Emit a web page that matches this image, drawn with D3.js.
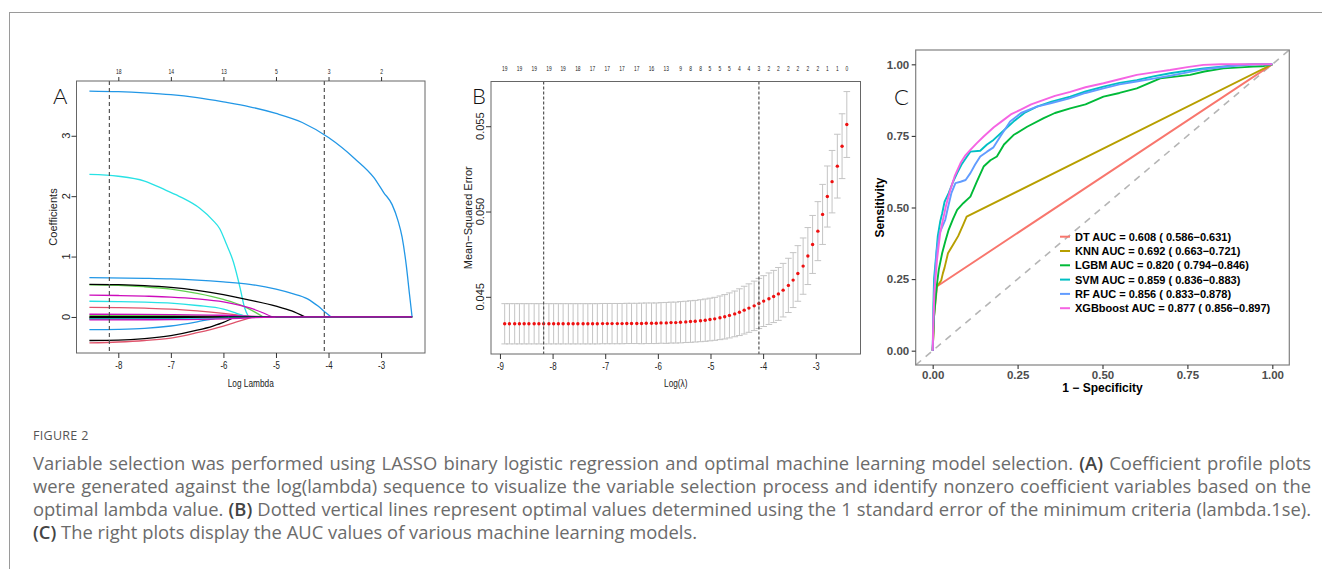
<!DOCTYPE html>
<html><head><meta charset="utf-8">
<script src="https://cdn.jsdelivr.net/npm/d3@7/dist/d3.min.js"></script>
<style>
html,body{margin:0;padding:0;background:#fff;}
body{width:1322px;height:569px;overflow:hidden;position:relative;}
#frame{position:absolute;left:9px;top:12px;width:1400px;height:600px;border-left:1px solid #9a9a9a;border-top:1px solid #9a9a9a;}
#chart{position:absolute;left:0;top:0;}
.cap{position:absolute;left:33px;width:1278px;font-family:"Open Sans",sans-serif;color:#6b6b6b;white-space:nowrap;}
.capline{line-height:23px;height:23px;text-align:justify;text-align-last:justify;}
.capline.last{text-align:left;text-align-last:left;}
.cap b{color:#444;font-weight:600;}
#figtitle{font-size:12.5px;line-height:18px;letter-spacing:0.3px;color:#555;}
#measure{position:absolute;left:0;top:-200px;white-space:nowrap;font-family:"Open Sans",sans-serif;font-size:16px;visibility:hidden;}
#measure b{font-weight:600;}
</style></head><body>
<div id="frame"></div>
<svg id="chart" width="1322" height="569"></svg>
<div id="figtitle" class="cap"></div>
<div id="captext" class="cap"></div>
<span id="measure"></span>
<script>
// ================= DATA =================
// ---- Panel A: LASSO coefficient profiles (log lambda, coefficient) ----
const lassoXTicks = [-8, -7, -6, -5, -4, -3];
const lassoYTicks = [0, 1, 2, 3];
const lassoTopLabels = ["18", "14", "13", "5", "3", "2"];
const lassoEndLog = -2.41;
const lambdaMinLog = -8.17;
const lambda1seLog = -4.08;

const coefBlueBig   = [[-8.55,3.74],[-8,3.73],[-7.5,3.71],[-7,3.68],[-6.5,3.63],[-6,3.56],[-5.5,3.48],[-5,3.37],[-4.5,3.22],[-4,2.97],[-3.5,2.62],[-3.14,2.31],[-2.95,2.06],[-2.79,1.86],[-2.68,1.6],[-2.6,1.32],[-2.52,0.85],[-2.46,0.38],[-2.41,0]];
const coefCyanBig   = [[-8.55,2.36],[-8,2.33],[-7.5,2.25],[-7.1,2.1],[-6.8,1.98],[-6.45,1.8],[-6.2,1.6],[-6.07,1.46],[-5.95,1.22],[-5.81,0.91],[-5.68,0.47],[-5.6,0.16],[-5.52,0]];
const coefBlue065   = [[-8.55,0.65],[-7.5,0.64],[-7,0.63],[-6.5,0.61],[-6,0.58],[-5.5,0.54],[-5,0.46],[-4.7,0.39],[-4.4,0.3],[-4.2,0.18],[-4.05,0.07],[-3.95,0]];
const coefBlack054  = [[-8.55,0.54],[-8,0.535],[-7.5,0.52],[-7,0.49],[-6.5,0.44],[-6,0.37],[-5.5,0.28],[-5,0.18],[-4.7,0.1],[-4.45,0]];
const coefGreen053  = [[-8.55,0.53],[-8,0.525],[-7.5,0.5],[-7,0.46],[-6.5,0.39],[-6,0.29],[-5.6,0.17],[-5.4,0.08],[-5.24,0]];
const coefMag036    = [[-8.55,0.36],[-8,0.355],[-7.5,0.345],[-7,0.33],[-6.5,0.3],[-6,0.25],[-5.5,0.15],[-5.25,0.07],[-5.07,0]];
const coefCyan026   = [[-8.55,0.26],[-8,0.255],[-7.5,0.245],[-7,0.23],[-6.5,0.19],[-6,0.13],[-5.75,0.06],[-5.54,0]];
const coefRed016    = [[-8.55,0.16],[-8,0.155],[-7.5,0.145],[-7,0.13],[-6.5,0.1],[-6,0.06],[-5.7,0.03],[-5.43,0]];
const coefBlueNeg   = [[-8.55,-0.21],[-8,-0.205],[-7.5,-0.19],[-7,-0.15],[-6.5,-0.08],[-6.2,-0.03],[-5.97,0]];
const coefBlackNeg  = [[-8.55,-0.39],[-8,-0.385],[-7.5,-0.36],[-7,-0.31],[-6.5,-0.22],[-6.2,-0.15],[-6,-0.09],[-5.78,0]];
const coefRedNeg    = [[-8.55,-0.43],[-8,-0.415],[-7.5,-0.39],[-7,-0.35],[-6.5,-0.26],[-6,-0.15],[-5.7,-0.07],[-5.43,0]];
const coefMagSmall  = [[-8.55,0.045],[-7,0.04],[-6,0.028],[-5.5,0.012],[-5.1,0]];
const coefGreenSmall= [[-8.55,0.025],[-7,0.022],[-6,0.012],[-5.35,0]];
const coefBlackSmall= [[-8.55,0.005],[-7,0.004],[-6.2,0]];
const coefRedSmall  = [[-8.55,-0.02],[-7,-0.018],[-6,-0.01],[-5.3,0]];
const coefCyanSmall = [[-8.55,-0.03],[-7,-0.026],[-6,-0.015],[-5.6,0]];
const coefBlackSm2  = [[-8.55,-0.012],[-7,-0.01],[-5.9,0]];
const coefGreenSm2  = [[-8.55,-0.038],[-7,-0.033],[-6,-0.02],[-5.45,0]];
const coefMagNeg    = [[-8.55,-0.048],[-7,-0.045],[-6,-0.032],[-5.5,-0.015],[-5.0,0]];

const lassoPaths = [coefBlackNeg, coefRedNeg, coefGreen053, coefBlueBig, coefCyanBig, coefMag036,
  coefBlack054, coefRed016, coefGreenSmall, coefBlue065, coefCyan026, coefMagSmall,
  coefBlackSmall, coefRedSmall, coefGreenSm2, coefBlueNeg, coefCyanSmall, coefBlackSm2, coefMagNeg];
const lassoColors = ["#000000","#DF536B","#61D04F","#2297E6","#28E2E5","#CD0BBC",
  "#000000","#DF536B","#61D04F","#2297E6","#28E2E5","#CD0BBC",
  "#000000","#DF536B","#61D04F","#2297E6","#28E2E5","#000000","#CD0BBC"];

// ---- Panel B: cross-validation curve ----
const cvXTicks = [-9, -8, -7, -6, -5, -4, -3];
const cvYTicks = [0.045, 0.050, 0.055];
const cvLogLambda = [-8.91,-8.82,-8.72,-8.63,-8.54,-8.45,-8.35,-8.26,-8.17,-8.07,
  -7.98,-7.89,-7.80,-7.70,-7.61,-7.52,-7.42,-7.33,-7.24,-7.15,
  -7.05,-6.96,-6.87,-6.77,-6.68,-6.59,-6.50,-6.40,-6.31,-6.22,
  -6.12,-6.03,-5.94,-5.84,-5.75,-5.66,-5.57,-5.47,-5.38,-5.29,
  -5.19,-5.10,-5.01,-4.92,-4.82,-4.73,-4.64,-4.54,-4.45,-4.36,
  -4.27,-4.17,-4.08,-3.99,-3.89,-3.80,-3.71,-3.62,-3.52,-3.43,
  -3.34,-3.24,-3.15,-3.06,-2.96,-2.87,-2.78,-2.69,-2.59,-2.50,
  -2.41];
const cvMSE = [0.04342,0.04342,0.04342,0.04342,0.04342,0.04342,0.04342,0.04342,0.04342,0.04342,
  0.04342,0.04342,0.04342,0.04342,0.04342,0.04342,0.04342,0.04342,0.04342,0.04342,
  0.04343,0.04343,0.04343,0.04343,0.04343,0.04344,0.04344,0.04344,0.04344,0.04345,
  0.04345,0.04345,0.04347,0.04347,0.04349,0.04349,0.04351,0.04353,0.04355,0.04357,
  0.04360,0.04363,0.04367,0.04371,0.04377,0.04383,0.04391,0.04400,0.04410,0.04422,
  0.04434,0.04447,0.04461,0.04475,0.04489,0.04502,0.04517,0.04539,0.04567,0.04598,
  0.04637,0.04680,0.04739,0.04807,0.04885,0.04983,0.05088,0.05175,0.05266,0.05383,
  0.05510];
const cvSE = [0.00118,0.00118,0.00118,0.00118,0.00118,0.00118,0.00118,0.00118,0.00118,0.00118,
  0.00118,0.00118,0.00118,0.00118,0.00118,0.00118,0.00118,0.00118,0.00118,0.00118,
  0.00118,0.00118,0.00118,0.00118,0.00118,0.00118,0.00118,0.00118,0.00119,0.00119,
  0.00119,0.00119,0.00119,0.00120,0.00120,0.00120,0.00121,0.00121,0.00122,0.00122,
  0.00123,0.00124,0.00125,0.00126,0.00128,0.00130,0.00132,0.00134,0.00137,0.00140,
  0.00142,0.00145,0.00147,0.00149,0.00151,0.00153,0.00155,0.00157,0.00159,0.00161,
  0.00163,0.00165,0.00167,0.00170,0.00173,0.00176,0.00179,0.00183,0.00187,0.00190,
  0.00193];
const cvNzero = [19,19,19,19,19,19,19,19,19,19,19,19,19,19,19,18,18,
  17,17,17,17,17,17,17,17,17,17,17,17,17,16,16,13,13,13,13,9,8,8,8,8,
  5,5,5,5,5,5,5,4,4,4,4,3,3,2,2,2,2,2,2,2,2,2,2,2,2,1,1,1,1,0];

// ---- Panel C: ROC curves (1 - specificity, sensitivity) ----
const rocTicks = [0, 0.25, 0.5, 0.75, 1];
const rocLabels = ["DT AUC = 0.608 ( 0.586\u22120.631)", "KNN AUC = 0.692 ( 0.663\u22120.721)",
  "LGBM AUC = 0.820 ( 0.794\u22120.846)", "SVM AUC = 0.859 ( 0.836\u22120.883)",
  "RF AUC = 0.856 ( 0.833\u22120.878)", "XGBboost AUC = 0.877 ( 0.856\u22120.897)"];
const rocDT = [[0,0],[0.004,0.12],[0.013,0.225],[1,1]];
const rocKNN = [[0,0],[0.005,0.15],[0.01,0.22],[0.025,0.245],[0.03,0.27],[0.035,0.29],[0.045,0.34],[0.06,0.37],[0.075,0.40],[0.09,0.44],[0.1,0.468],[1,1]];
const rocLGBM = [[0,0],[0.004,0.12],[0.01,0.2],[0.013,0.236],[0.018,0.283],[0.028,0.341],[0.037,0.381],[0.047,0.422],[0.06,0.46],[0.072,0.492],[0.09,0.515],[0.111,0.538],[0.13,0.59],[0.15,0.643],[0.17,0.665],[0.189,0.678],[0.21,0.72],[0.238,0.753],[0.278,0.782],[0.327,0.812],[0.36,0.83],[0.405,0.846],[0.45,0.86],[0.503,0.887],[0.55,0.9],[0.601,0.916],[0.67,0.951],[0.758,0.963],[0.8,0.975],[0.856,0.986],[0.944,0.992],[0.97,0.993],[1,1]];
const rocSVM = [[0,0],[0.002,0.15],[0.004,0.25],[0.01,0.33],[0.015,0.40],[0.022,0.45],[0.028,0.48],[0.035,0.52],[0.047,0.55],[0.06,0.59],[0.072,0.62],[0.085,0.65],[0.101,0.678],[0.111,0.695],[0.14,0.698],[0.16,0.72],[0.179,0.736],[0.21,0.77],[0.238,0.8],[0.27,0.83],[0.307,0.852],[0.35,0.87],[0.405,0.887],[0.45,0.905],[0.503,0.922],[0.55,0.935],[0.601,0.945],[0.65,0.958],[0.699,0.969],[0.75,0.978],[0.797,0.986],[0.85,0.992],[0.895,0.998],[0.95,1],[1,1]];
const rocRF = [[0,0],[0.003,0.15],[0.006,0.25],[0.012,0.35],[0.02,0.41],[0.037,0.457],[0.045,0.5],[0.055,0.55],[0.067,0.585],[0.082,0.59],[0.097,0.596],[0.111,0.62],[0.125,0.65],[0.14,0.678],[0.16,0.695],[0.179,0.71],[0.2,0.75],[0.228,0.8],[0.26,0.83],[0.307,0.852],[0.35,0.865],[0.4,0.88],[0.45,0.9],[0.5,0.915],[0.55,0.93],[0.6,0.94],[0.65,0.95],[0.7,0.96],[0.75,0.972],[0.8,0.983],[0.85,0.99],[0.9,0.996],[0.95,1],[1,1]];
const rocXGB = [[0,0],[0.002,0.1],[0.005,0.2],[0.008,0.248],[0.013,0.32],[0.018,0.37],[0.022,0.41],[0.028,0.445],[0.04,0.51],[0.052,0.562],[0.065,0.61],[0.082,0.655],[0.095,0.68],[0.111,0.701],[0.13,0.725],[0.15,0.748],[0.18,0.78],[0.209,0.806],[0.23,0.825],[0.258,0.841],[0.29,0.86],[0.327,0.876],[0.36,0.89],[0.405,0.904],[0.45,0.92],[0.503,0.934],[0.55,0.948],[0.601,0.963],[0.65,0.972],[0.699,0.98],[0.75,0.99],[0.797,0.998],[0.85,1],[1,1]];
const rocSeries = [rocDT, rocKNN, rocLGBM, rocSVM, rocRF, rocXGB];
const rocColors = ["#F8766D", "#B79F00", "#00BA38", "#00BFC4", "#619CFF", "#F564E3"];

// ---- Caption ----
const captionTitle = "FIGURE 2";
const captionLines = [
  "Variable selection was performed using LASSO binary logistic regression and optimal machine learning model selection. <b>(A)</b> Coefficient profile plots",
  "were generated against the log(lambda) sequence to visualize the variable selection process and identify nonzero coefficient variables based on the",
  "optimal lambda value. <b>(B)</b> Dotted vertical lines represent optimal values determined using the 1 standard error of the minimum criteria (lambda.1se).",
  "<b>(C)</b> The right plots display the AUC values of various machine learning models."
];

// ================= DRAWING =================
const svg = d3.select("#chart");
const RFONT = "'Liberation Sans', Arial, Helvetica, sans-serif";
const SQ = 0.72; // horizontal squeeze of the R panels' text
const ink = "#222";

function pad4(ext) { const d = (ext[1] - ext[0]) * 0.04; return [ext[0] - d, ext[1] + d]; }
function styleAxis(g, fs) {
  g.select(".domain").remove();
  g.selectAll("line").attr("stroke", "#333");
  g.selectAll("text").attr("font-family", RFONT).attr("font-size", fs).attr("fill", ink);
}

// ---------- Panel A ----------
const A = {l: 76.5, r: 425, t: 81, b: 353};
const allA = lassoPaths.flat();
const xA = d3.scaleLinear().domain(pad4(d3.extent(allA, d => d[0]))).range([A.l, A.r]);
const yA = d3.scaleLinear().domain(pad4(d3.extent(allA, d => d[1]))).range([A.b, A.t]);
const gA = svg.append("g");
const lineA = d3.line().x(d => xA(d[0])).y(d => yA(d[1])).curve(d3.curveMonotoneX);
lassoPaths.forEach((p, i) => {
  const last = p[p.length - 1];
  gA.append("path").attr("d", lineA(p)).attr("fill", "none").attr("stroke", lassoColors[i]).attr("stroke-width", 1.3);
  if (last[0] < lassoEndLog)
    gA.append("line").attr("x1", xA(last[0])).attr("x2", xA(lassoEndLog)).attr("y1", yA(0)).attr("y2", yA(0))
      .attr("stroke", lassoColors[i]).attr("stroke-width", 1.3);
});
[lambdaMinLog, lambda1seLog].forEach(v => {
  gA.append("line").attr("x1", xA(v)).attr("x2", xA(v)).attr("y1", A.t).attr("y2", A.b)
    .attr("stroke", "#555").attr("stroke-width", 1.2).attr("stroke-dasharray", "4,3");
});
gA.append("rect").attr("x", A.l).attr("y", A.t).attr("width", A.r - A.l).attr("height", A.b - A.t)
  .attr("fill", "none").attr("stroke", "#666").attr("stroke-width", 1);
const axA = gA.append("g").attr("transform", `translate(0,${A.b})`)
  .call(d3.axisBottom(xA).tickValues(lassoXTicks).tickSize(5).tickPadding(3).tickFormat(d => String(d)));
styleAxis(axA, 11); axA.selectAll("text").attr("transform", `scale(${SQ},1)`);
const axAt = gA.append("g").attr("transform", `translate(0,${A.t})`)
  .call(d3.axisTop(xA).tickValues(lassoXTicks).tickSize(4).tickPadding(3).tickFormat((d, i) => lassoTopLabels[i]));
styleAxis(axAt, 7); axAt.selectAll("text").attr("transform", `scale(${SQ},1)`);
const axAl = gA.append("g").attr("transform", `translate(${A.l},0)`)
  .call(d3.axisLeft(yA).tickValues(lassoYTicks).tickSize(5).tickFormat(""));
styleAxis(axAl, 11);
lassoYTicks.forEach(v => {
  gA.append("text").attr("transform", `translate(${A.l - 6.5},${yA(v)}) rotate(-90)`)
    .attr("text-anchor", "middle").attr("font-family", RFONT).attr("font-size", 11).attr("fill", ink).text(v);
});
gA.append("text").attr("transform", `translate(${(A.l + A.r) / 2},${387}) scale(${SQ},1)`)
  .attr("text-anchor", "middle").attr("font-family", RFONT).attr("font-size", 11.5).attr("fill", ink).text("Log Lambda");
gA.append("text").attr("transform", `translate(57,${(A.t + A.b) / 2}) rotate(-90)`)
  .attr("text-anchor", "middle").attr("font-family", RFONT).attr("font-size", 11).attr("fill", ink).text("Coefficients");

// ---------- Panel B ----------
const B = {l: 491, r: 860.5, t: 81.5, b: 354};
const xB = d3.scaleLinear().domain(pad4(d3.extent(cvLogLambda))).range([B.l, B.r]);
const lowB = cvMSE.map((m, i) => m - cvSE[i]), upB = cvMSE.map((m, i) => m + cvSE[i]);
const yB = d3.scaleLinear().domain(pad4([d3.min(lowB), d3.max(upB)])).range([B.b, B.t]);
const gB = svg.append("g");
const capW = 3.3;
cvLogLambda.forEach((lx, i) => {
  const x = xB(lx);
  gB.append("line").attr("x1", x).attr("x2", x).attr("y1", yB(lowB[i])).attr("y2", yB(upB[i]))
    .attr("stroke", "#c4c4c4").attr("stroke-width", 1);
  [lowB[i], upB[i]].forEach(v => gB.append("line").attr("x1", x - capW).attr("x2", x + capW)
    .attr("y1", yB(v)).attr("y2", yB(v)).attr("stroke", "#c4c4c4").attr("stroke-width", 1));
});
gB.selectAll("circle.pt").data(cvMSE).join("circle").attr("class", "pt")
  .attr("cx", (d, i) => xB(cvLogLambda[i])).attr("cy", d => yB(d)).attr("r", 1.7).attr("fill", "#ee1111");
[lambdaMinLog, lambda1seLog].forEach(v => {
  gB.append("line").attr("x1", xB(v)).attr("x2", xB(v)).attr("y1", B.t).attr("y2", B.b)
    .attr("stroke", "#555").attr("stroke-width", 1.2).attr("stroke-dasharray", "3,2");
});
gB.append("rect").attr("x", B.l).attr("y", B.t).attr("width", B.r - B.l).attr("height", B.b - B.t)
  .attr("fill", "none").attr("stroke", "#666").attr("stroke-width", 1);
const axB = gB.append("g").attr("transform", `translate(0,${B.b})`)
  .call(d3.axisBottom(xB).tickValues(cvXTicks).tickSize(5).tickPadding(3).tickFormat(d => String(d)));
styleAxis(axB, 11); axB.selectAll("text").attr("transform", `scale(${SQ},1)`);
const axBl = gB.append("g").attr("transform", `translate(${B.l},0)`)
  .call(d3.axisLeft(yB).tickValues(cvYTicks).tickSize(5).tickFormat(""));
styleAxis(axBl, 11);
cvYTicks.forEach(v => {
  gB.append("text").attr("transform", `translate(${B.l - 7.5},${yB(v)}) rotate(-90)`)
    .attr("text-anchor", "middle").attr("font-family", RFONT).attr("font-size", 11).attr("fill", ink).text(d3.format(".3f")(v));
});
// top nzero labels, skipping overlapping ones like R's axis()
const topFs = 6.8, digitW = topFs * 0.556 * SQ, gapTop = 5;
let lastX = -1e9, lastW = 0;
cvNzero.forEach((n, i) => {
  const x = xB(cvLogLambda[i]), w = String(n).length * digitW;
  if (x - lastX >= lastW / 2 + w / 2 + gapTop) {
    gB.append("text").attr("transform", `translate(${x},71) scale(${SQ},1)`).attr("text-anchor", "middle")
      .attr("font-family", RFONT).attr("font-size", topFs).attr("fill", ink).text(n);
    lastX = x; lastW = w;
  }
});
gB.append("text").attr("transform", `translate(${(B.l + B.r) / 2},387) scale(${SQ},1)`)
  .attr("text-anchor", "middle").attr("font-family", RFONT).attr("font-size", 11.5).attr("fill", ink).text("Log(\u03BB)");
gB.append("text").attr("transform", `translate(472,${(B.t + B.b) / 2}) rotate(-90)`)
  .attr("text-anchor", "middle").attr("font-family", RFONT).attr("font-size", 11).attr("fill", ink).text("Mean\u2212Squared Error");

// ---------- Panel letters ----------
const LFONT = "Lato, 'Open Sans', sans-serif";
[["A", 53, 104], ["B", 472, 104], ["C", 894, 105]].forEach(([t, x, y]) => {
  svg.append("text").attr("x", x).attr("y", y).attr("font-family", LFONT).attr("font-weight", 300)
    .attr("font-size", 22).attr("fill", "#111").text(t);
});

// ---------- Panel C ----------
const C = {l: 915.7, r: 1289.3, t: 50, b: 365};
const xC = d3.scaleLinear().domain([-0.05, 1.05]).range([C.l, C.r]);
const yC = d3.scaleLinear().domain([-0.05, 1.05]).range([C.b, C.t]);
const gC = svg.append("g");
svg.append("defs").append("clipPath").attr("id", "clipC").append("rect")
  .attr("x", C.l).attr("y", C.t).attr("width", C.r - C.l).attr("height", C.b - C.t);
gC.append("line").attr("clip-path", "url(#clipC)").attr("x1", xC(-0.05)).attr("y1", yC(-0.05)).attr("x2", xC(1.05)).attr("y2", yC(1.05))
  .attr("stroke", "#b5b5b5").attr("stroke-width", 1.6).attr("stroke-dasharray", "7,6");
const lineC = d3.line().x(d => xC(d[0])).y(d => yC(d[1]));
rocSeries.forEach((s, i) => {
  gC.append("path").attr("d", lineC(s)).attr("fill", "none").attr("stroke", rocColors[i])
    .attr("stroke-width", 1.9).attr("stroke-linejoin", "round");
});
gC.append("rect").attr("x", C.l).attr("y", C.t).attr("width", C.r - C.l).attr("height", C.b - C.t)
  .attr("fill", "none").attr("stroke", "#808080").attr("stroke-width", 1.2);
const CFONT = "'Liberation Sans', Arial, sans-serif";
const axCx = gC.append("g").attr("transform", `translate(0,${C.b})`)
  .call(d3.axisBottom(xC).tickValues(rocTicks).tickSize(4).tickPadding(2).tickFormat(d3.format(".2f")));
const axCy = gC.append("g").attr("transform", `translate(${C.l},0)`)
  .call(d3.axisLeft(yC).tickValues(rocTicks).tickSize(4).tickPadding(2.5).tickFormat(d3.format(".2f")));
[axCx, axCy].forEach(g => {
  g.select(".domain").remove();
  g.selectAll("line").attr("stroke", "#333").attr("stroke-width", 1.1);
  g.selectAll("text").attr("font-family", CFONT).attr("font-size", 11.5).attr("font-weight", "bold").attr("fill", "#4d4d4d");
});
gC.append("text").attr("x", (C.l + C.r) / 2).attr("y", 392).attr("text-anchor", "middle")
  .attr("font-family", CFONT).attr("font-size", 12).attr("font-weight", "bold").attr("fill", "#000").text("1 \u2212 Specificity");
gC.append("text").attr("transform", `translate(884,${(C.t + C.b) / 2}) rotate(-90)`).attr("text-anchor", "middle")
  .attr("font-family", CFONT).attr("font-size", 12).attr("font-weight", "bold").attr("fill", "#000").text("Sensitivity");
// legend
const legY0 = 236.7, legDy = 14.3;
rocLabels.forEach((lab, i) => {
  const y = legY0 + i * legDy;
  gC.append("line").attr("x1", 1060).attr("x2", 1070).attr("y1", y).attr("y2", y)
    .attr("stroke", rocColors[i]).attr("stroke-width", 2);
  gC.append("text").attr("x", 1075).attr("y", y).attr("dy", "0.36em")
    .attr("font-family", CFONT).attr("font-size", 11).attr("font-weight", "bold").attr("fill", "#000").text(lab);
});

// ---------- Caption ----------
d3.select("#figtitle").style("top", "427px").text(captionTitle);
// pick a font size so that the last (unjustified) line ends near x=713 while all lines fit
const meas = d3.select("#measure");
const widths = captionLines.map(t => { meas.html(t); return meas.node().getBoundingClientRect().width; });
const fsLast = 16 * 680 / widths[widths.length - 1];
const fsFit = 16 * 1272 / d3.max(widths.slice(0, -1));
const capFs = Math.min(fsLast, fsFit);
const cap = d3.select("#captext").style("top", "451px").style("font-size", capFs + "px");
captionLines.forEach((t, i) => {
  cap.append("div").attr("class", "capline" + (i === captionLines.length - 1 ? " last" : "")).html(t);
});
</script>
</body></html>
